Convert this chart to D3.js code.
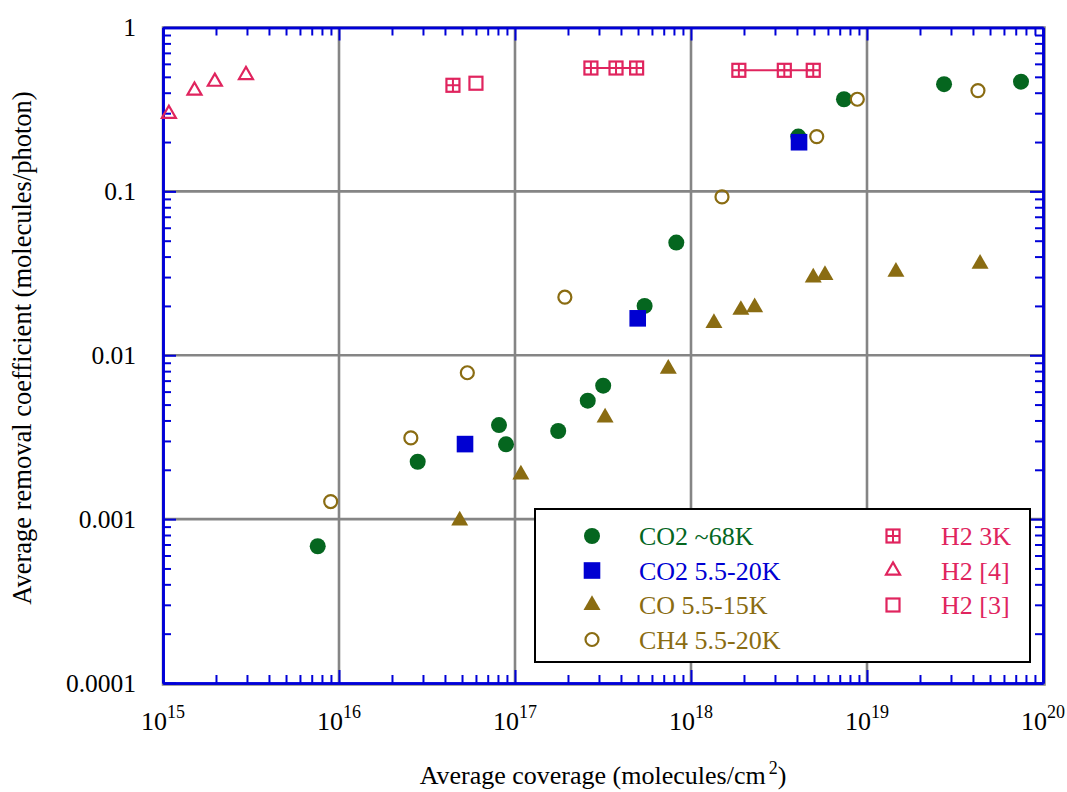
<!DOCTYPE html>
<html>
<head>
<meta charset="utf-8">
<script src="https://cdn.jsdelivr.net/npm/d3@7"></script>
<style>
  html, body { margin: 0; padding: 0; background: #fff; }
  svg { display: block; }
  text { font-family: "Liberation Serif", "Times New Roman", serif; }
</style>
</head>
<body>
<svg id="chart" width="1067" height="792"></svg>
<script>
// ---------------- DATA ----------------
const xTickExponents = [15, 16, 17, 18, 19, 20];
const yTickValues = [1, 0.1, 0.01, 0.001, 0.0001];
const yTickLabels = ["1", "0.1", "0.01", "0.001", "0.0001"];

const co2_68K_x = [7.57e15, 2.80e16, 8.11e16, 8.89e16, 1.76e17, 2.59e17, 3.17e17, 5.45e17, 8.25e17, 4.07e18, 7.40e18, 2.74e19, 7.50e19];
const co2_68K_y = [6.83e-4, 2.24e-3, 3.75e-3, 2.86e-3, 3.45e-3, 5.28e-3, 6.52e-3, 0.0200, 0.0487, 0.216, 0.365, 0.451, 0.467];

const co2_20K_x = [5.20e16, 4.98e17, 4.11e18];
const co2_20K_y = [2.87e-3, 0.0168, 0.1995];

const co_x = [4.85e16, 1.08e17, 3.25e17, 7.43e17, 1.35e18, 1.92e18, 2.30e18, 4.95e18, 5.77e18, 1.46e19, 4.39e19];
const co_y = [9.8e-4, 1.87e-3, 4.16e-3, 8.27e-3, 0.0157, 0.0189, 0.0196, 0.0298, 0.0308, 0.0323, 0.0361];

const ch4_x = [8.97e15, 2.56e16, 5.36e16, 1.92e17, 1.50e18, 5.18e18, 8.81e18, 4.27e19];
const ch4_y = [1.28e-3, 3.13e-3, 7.82e-3, 0.0226, 0.0925, 0.216, 0.365, 0.412];

const h2_3K_x = [4.44e16, 2.70e17, 3.75e17, 4.91e17, 1.87e18, 3.39e18, 4.95e18];
const h2_3K_y = [0.444, 0.566, 0.566, 0.566, 0.548, 0.548, 0.548];
const h2_3K_group = [0, 1, 1, 1, 2, 2, 2];

const h2_ref4_x = [1.08e15, 1.51e15, 1.97e15, 2.96e15];
const h2_ref4_y = [0.297, 0.412, 0.467, 0.513];

const h2_ref3_x = [6.0e16];
const h2_ref3_y = [0.457];

const legendLabels = ["CO2 ~68K", "CO2 5.5-20K", "CO 5.5-15K", "CH4 5.5-20K", "H2 3K", "H2 [4]", "H2 [3]"];

// ---------------- STYLE ----------------
const C_GREEN = "#05661f";
const C_BLUE = "#0000d2";
const C_OLIVE = "#8a6c12";
const C_RED = "#e0245e";
const C_AXIS = "#0000d8";
const C_GRID = "#858585";

const svg = d3.select("#chart");
const L = 163, R = 1043, T = 27.5, B = 683;

const x = d3.scaleLog().domain([1e15, 1e20]).range([L, R]);
const y = d3.scaleLog().domain([1e-4, 1]).range([B, T]);

// minor tick positions
const minorX = [];
for (let e = 15; e < 20; e++) for (let k = 2; k <= 9; k++) minorX.push(k * Math.pow(10, e));
const minorY = [];
for (let e = -4; e < 0; e++) for (let k = 2; k <= 9; k++) minorY.push(k * Math.pow(10, e));
const majorX = xTickExponents.map(e => Math.pow(10, e));

// ---------------- GRID ----------------
const grid = svg.append("g");
grid.selectAll("line.gx").data(majorX.slice(1, -1)).join("line")
  .attr("x1", d => x(d)).attr("x2", d => x(d)).attr("y1", T).attr("y2", B)
  .attr("stroke", C_GRID).attr("stroke-width", 2.6);
grid.selectAll("line.gy").data(yTickValues.slice(1, -1)).join("line")
  .attr("y1", d => y(d)).attr("y2", d => y(d)).attr("x1", L).attr("x2", R)
  .attr("stroke", C_GRID).attr("stroke-width", 2.6);
// gray frame shadow
svg.append("rect").attr("x", L).attr("y", T).attr("width", R - L + 1.5).attr("height", B - T + 1.5)
  .attr("fill", "none").attr("stroke", C_GRID).attr("stroke-width", 2.5);

// ---------------- AXES (ticks inward) ----------------
function styleAxis(g) {
  g.select(".domain").attr("stroke", C_AXIS).attr("stroke-width", 2.6);
  g.selectAll(".tick line").attr("stroke", C_AXIS).attr("stroke-width", 2);
  g.selectAll(".tick text").remove();
}
const gB = svg.append("g").attr("transform", `translate(0,${B})`);
gB.append("g").call(d3.axisBottom(x).tickValues(minorX).tickSizeInner(-8).tickSizeOuter(0).tickFormat("")).call(styleAxis);
gB.append("g").call(d3.axisBottom(x).tickValues(majorX).tickSizeInner(-13).tickSizeOuter(0).tickFormat("")).call(styleAxis);
const gT = svg.append("g").attr("transform", `translate(0,${T})`);
gT.append("g").call(d3.axisTop(x).tickValues(minorX).tickSizeInner(-8).tickSizeOuter(0).tickFormat("")).call(styleAxis);
gT.append("g").call(d3.axisTop(x).tickValues(majorX).tickSizeInner(-13).tickSizeOuter(0).tickFormat("")).call(styleAxis);
const gL = svg.append("g").attr("transform", `translate(${L},0)`);
gL.append("g").call(d3.axisLeft(y).tickValues(minorY).tickSizeInner(-8).tickSizeOuter(0).tickFormat("")).call(styleAxis);
gL.append("g").call(d3.axisLeft(y).tickValues(yTickValues).tickSizeInner(-13).tickSizeOuter(0).tickFormat("")).call(styleAxis);
const gR = svg.append("g").attr("transform", `translate(${R},0)`);
gR.append("g").call(d3.axisRight(y).tickValues(minorY).tickSizeInner(-8).tickSizeOuter(0).tickFormat("")).call(styleAxis);
gR.append("g").call(d3.axisRight(y).tickValues(yTickValues).tickSizeInner(-13).tickSizeOuter(0).tickFormat("")).call(styleAxis);

// tick labels
const xl = svg.append("g").selectAll("text").data(xTickExponents).join("text")
  .attr("x", d => x(Math.pow(10, d)) - 22).attr("y", B + 47)
  .attr("font-size", 26).attr("fill", "#000");
xl.append("tspan").text("10");
xl.append("tspan").attr("dy", -12).attr("font-size", 18).text(d => d);

svg.append("g").selectAll("text").data(yTickValues).join("text")
  .attr("x", 136).attr("y", d => y(d) + 8.5).attr("text-anchor", "end")
  .attr("font-size", 25.5).attr("fill", "#000")
  .text((d, i) => yTickLabels[i]);

// axis titles
const xt = svg.append("text").attr("x", 603).attr("y", 784).attr("text-anchor", "middle")
  .attr("font-size", 26).attr("fill", "#000");
xt.append("tspan").text("Average coverage (molecules/cm");
xt.append("tspan").attr("dy", -10).attr("font-size", 18).attr("dx", 3).text("2");
xt.append("tspan").attr("dy", 10).text(")");

svg.append("text").attr("transform", "translate(31,348) rotate(-90)").attr("text-anchor", "middle")
  .attr("font-size", 26.5).attr("fill", "#000")
  .text("Average removal coefficient (molecules/photon)");

// ---------------- MARKERS ----------------
function tri(s) { // equilateral triangle centered at centroid, side s
  const h = s * Math.sqrt(3) / 2;
  return `M0,${-2 * h / 3}L${s / 2},${h / 3}L${-s / 2},${h / 3}Z`;
}
const markers = {
  fcircle: g => g.append("circle").attr("r", 8).attr("fill", C_GREEN),
  fsquare: g => g.append("rect").attr("x", -8.3).attr("y", -8.3).attr("width", 16.6).attr("height", 16.6).attr("fill", C_BLUE),
  ftri: g => g.append("path").attr("d", tri(17)).attr("fill", C_OLIVE),
  ocircle: g => g.append("circle").attr("r", 6.5).attr("fill", "none").attr("stroke", C_OLIVE).attr("stroke-width", 2.2),
  hatch: g => {
    g.append("rect").attr("x", -6.5).attr("y", -6.5).attr("width", 13).attr("height", 13)
      .attr("fill", "none").attr("stroke", C_RED).attr("stroke-width", 2.2);
    g.append("path").attr("d", "M0,-6.5V6.5M-6.5,0H6.5").attr("stroke", C_RED).attr("stroke-width", 2);
  },
  otri: g => g.append("path").attr("d", tri(14)).attr("fill", "none").attr("stroke", C_RED).attr("stroke-width", 2.2),
  osquare: g => g.append("rect").attr("x", -6.5).attr("y", -6.5).attr("width", 13).attr("height", 13)
      .attr("fill", "none").attr("stroke", C_RED).attr("stroke-width", 2.2)
};

function drawSeries(xs, ys, kind) {
  const pts = xs.map((v, i) => [v, ys[i]]);
  svg.append("g").selectAll("g").data(pts).join("g")
    .attr("transform", d => `translate(${x(d[0])},${y(d[1])})`)
    .each(function () { markers[kind](d3.select(this)); });
}

drawSeries(co2_68K_x, co2_68K_y, "fcircle");
drawSeries(co2_20K_x, co2_20K_y, "fsquare");
drawSeries(co_x, co_y, "ftri");
drawSeries(ch4_x, ch4_y, "ocircle");

// H2 3K connecting lines
const groups = d3.groups(h2_3K_x.map((v, i) => [v, h2_3K_y[i], h2_3K_group[i]]), d => d[2]);
const line = d3.line().x(d => x(d[0])).y(d => y(d[1]));
svg.append("g").selectAll("path").data(groups.filter(g => g[1].length > 1)).join("path")
  .attr("d", d => line(d[1])).attr("fill", "none").attr("stroke", C_RED).attr("stroke-width", 2);
drawSeries(h2_3K_x, h2_3K_y, "hatch");
drawSeries(h2_ref4_x, h2_ref4_y, "otri");
drawSeries(h2_ref3_x, h2_ref3_y, "osquare");

// ---------------- LEGEND ----------------
const lg = svg.append("g");
lg.append("rect").attr("x", 535).attr("y", 509).attr("width", 495).attr("height", 153)
  .attr("fill", "#fff").attr("stroke", "#000").attr("stroke-width", 2);
const legendItems = [
  { kind: "fcircle", color: C_GREEN, col: 0, row: 0 },
  { kind: "fsquare", color: C_BLUE, col: 0, row: 1 },
  { kind: "ftri", color: C_OLIVE, col: 0, row: 2 },
  { kind: "ocircle", color: C_OLIVE, col: 0, row: 3 },
  { kind: "hatch", color: C_RED, col: 1, row: 0 },
  { kind: "otri", color: C_RED, col: 1, row: 1 },
  { kind: "osquare", color: C_RED, col: 1, row: 2 }
];
const colSym = [592, 893], colText = [639, 941];
const rowY = [536, 570.5, 605, 639.5];
legendItems.forEach((it, i) => {
  const g = lg.append("g").attr("transform", `translate(${colSym[it.col]},${rowY[it.row]})`);
  markers[it.kind](g);
  lg.append("text").attr("x", colText[it.col]).attr("y", rowY[it.row] + 9)
    .attr("font-size", 26).attr("fill", it.color).text(legendLabels[i]);
});
</script>
</body>
</html>
